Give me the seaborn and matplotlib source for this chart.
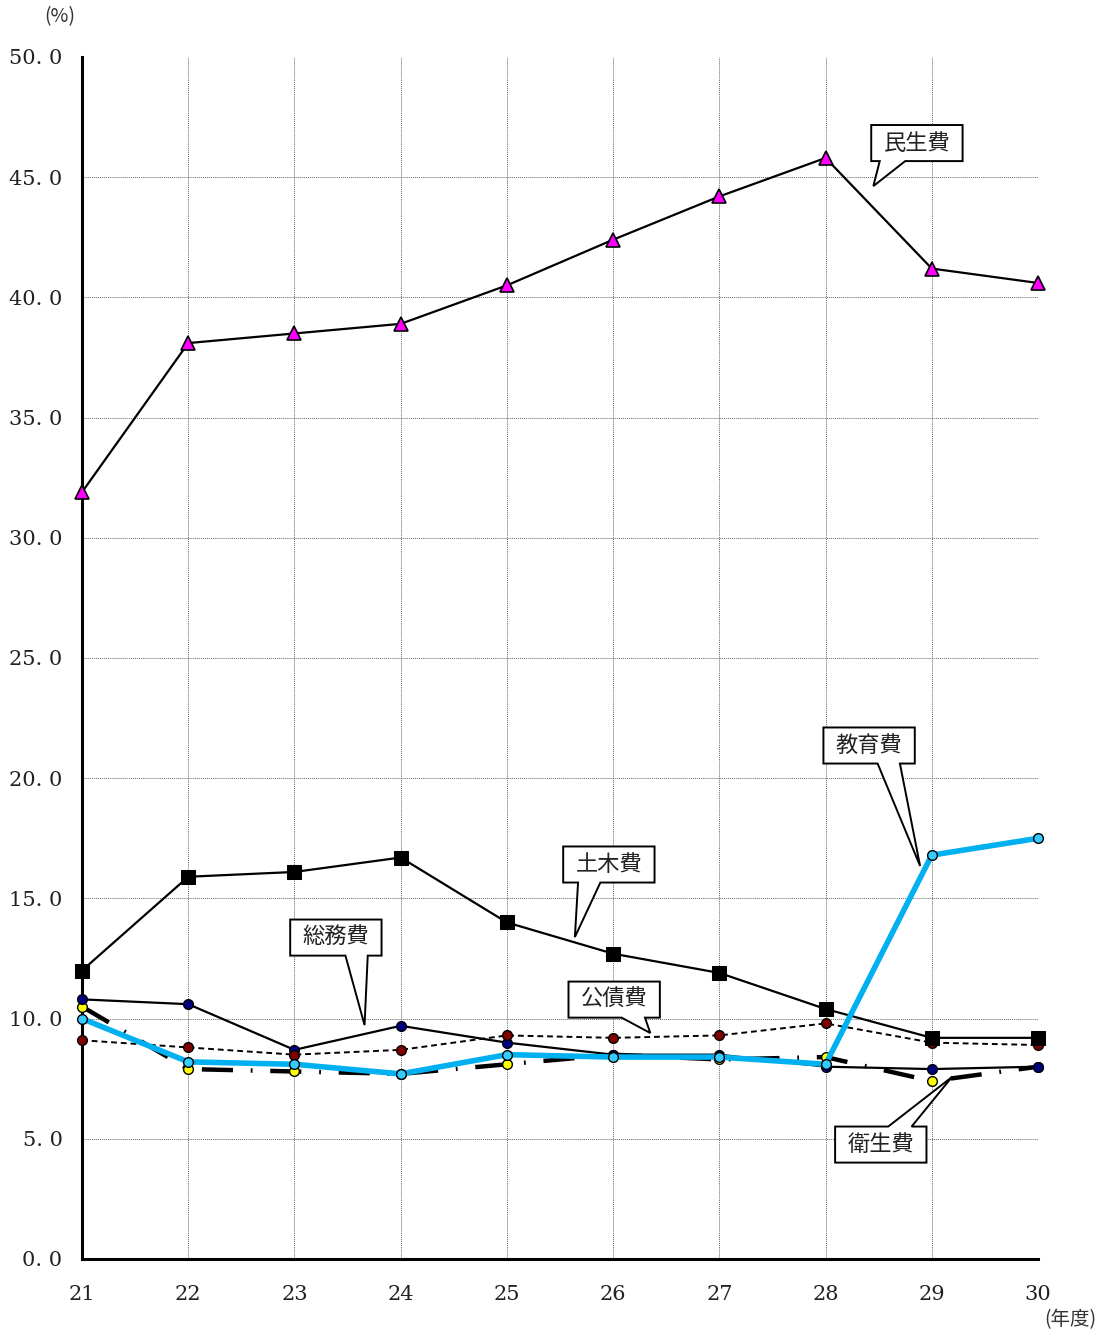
import matplotlib
matplotlib.use("Agg")
import matplotlib.pyplot as plt
from matplotlib.patches import Polygon
import seaborn as sns

# 年度（平成）
years = [21, 22, 23, 24, 25, 26, 27, 28, 29, 30]

# 目的別構成比（%）
minsei = [31.9, 38.1, 38.5, 38.9, 40.5, 42.4, 44.2, 45.8, 41.2, 40.6]   # 民生費
doboku = [12.0, 15.9, 16.1, 16.7, 14.0, 12.7, 11.9, 10.4, 9.2, 9.2]     # 土木費
kyoiku = [10.0, 8.2, 8.1, 7.7, 8.5, 8.4, 8.4, 8.1, 16.8, 17.5]          # 教育費
somu = [10.8, 10.6, 8.7, 9.7, 9.0, 8.5, 8.5, 8.0, 7.9, 8.0]             # 総務費
kosai = [9.1, 8.8, 8.5, 8.7, 9.3, 9.2, 9.3, 9.8, 9.0, 8.9]              # 公債費
eisei = [10.5, 7.9, 7.8, 7.7, 8.1, 8.5, 8.3, 8.4, 7.4, 8.0]             # 衛生費

y_ticks = [0, 5, 10, 15, 20, 25, 30, 35, 40, 45, 50]
y_tick_labels = ["0. 0", "5. 0", "10. 0", "15. 0", "20. 0", "25. 0",
                 "30. 0", "35. 0", "40. 0", "45. 0", "50. 0"]

sns.set_theme(style="white")
plt.rcParams["font.family"] = ["Noto Sans CJK JP", "DejaVu Sans"]

fig = plt.figure(figsize=(11.06, 13.34), dpi=100)
ax = fig.add_axes([82 / 1106, 1 - 1259 / 1334, (1038 - 82) / 1106, (1259 - 57) / 1334])

common = dict(ax=ax, errorbar=None, clip_on=False)

# 衛生費：太い一点鎖線
sns.lineplot(x=years, y=eisei, color="black", lw=3.2,
             linestyle=(0, (7, 4, 0.4, 4)), marker="o", markersize=7,
             markerfacecolor="#FFFF00", markeredgecolor="black",
             markeredgewidth=1.0, zorder=3, **common)
# 総務費：細い実線
sns.lineplot(x=years, y=somu, color="black", lw=1.6,
             marker="o", markersize=7, markerfacecolor="#000080",
             markeredgecolor="black", markeredgewidth=1.0, zorder=4, **common)
# 公債費：破線
sns.lineplot(x=years, y=kosai, color="black", lw=1.4,
             linestyle=(0, (3, 2)), marker="o", markersize=7,
             markerfacecolor="#800000", markeredgecolor="black",
             markeredgewidth=1.0, zorder=4, **common)
# 土木費
sns.lineplot(x=years, y=doboku, color="black", lw=1.6,
             marker="s", markersize=10, markerfacecolor="black",
             markeredgecolor="black", zorder=5, **common)
# 教育費：水色の太線
sns.lineplot(x=years, y=kyoiku, color="#00B0F0", lw=4.0,
             marker="o", markersize=7, markerfacecolor="#33CCFF",
             markeredgecolor="black", markeredgewidth=1.0, zorder=6, **common)
# 民生費
sns.lineplot(x=years, y=minsei, color="black", lw=1.6,
             marker="^", markersize=10, markerfacecolor="#FF00FF",
             markeredgecolor="black", markeredgewidth=1.2, zorder=6, **common)

ax.set_xlim(21, 30)
ax.set_ylim(0, 50)
ax.set_xticks(years)
ax.set_xticklabels([str(y) for y in years], family=["DejaVu Serif"], fontsize=15)
ax.set_yticks(y_ticks)
ax.set_yticklabels(y_tick_labels, family=["DejaVu Serif"], fontsize=15)
ax.set_xlabel("")
ax.set_ylabel("")

ax.grid(True, color="#666666", linestyle=(0, (1, 1)), linewidth=0.7)
for gl in ax.get_ygridlines():
    if abs(gl.get_ydata()[0] - 50) < 1e-6:
        gl.set_visible(False)
for gl in ax.get_xgridlines():
    xv = gl.get_xdata()[0]
    if abs(xv - 21) < 1e-6 or abs(xv - 30) < 1e-6:
        gl.set_visible(False)

for side in ("top", "right"):
    ax.spines[side].set_visible(False)
for side in ("left", "bottom"):
    ax.spines[side].set_linewidth(2.2)
    ax.spines[side].set_color("black")
ax.tick_params(axis="both", direction="in", length=6, width=1.5, colors="black",
               labelcolor="#222222")
ax.tick_params(axis="x", pad=19)
ax.tick_params(axis="y", pad=14)

fig.text(60 / 1106, 1 - 17 / 1334, "(%)", ha="center", va="center",
         fontsize=14, color="#333333")
fig.text(1070 / 1106, 1 - 1320 / 1334, "(年度)", ha="center", va="center",
         fontsize=14, color="#333333")


def callout(label, cx, cy, tip, base, edge):
    w, h = 0.86, 1.50
    x0, x1 = cx - w / 2, cx + w / 2
    y0, y1 = cy - h / 2, cy + h / 2
    b0, b1 = base
    if edge == "bottom":
        pts = [(x0, y1), (x1, y1), (x1, y0), (b1, y0), tip, (b0, y0), (x0, y0)]
    else:
        pts = [(x0, y0), (x1, y0), (x1, y1), (b1, y1), tip, (b0, y1), (x0, y1)]
    poly = Polygon(pts, closed=True, facecolor="white", edgecolor="black",
                   linewidth=1.4, zorder=10, clip_on=False)
    ax.add_patch(poly)
    ax.text(cx, cy, label, ha="center", va="center", fontsize=16,
            color="#222222", zorder=11)


callout("民生費", 28.86, 46.42, (28.45, 44.63), (28.51, 28.75), "bottom")
callout("教育費", 28.41, 21.36, (28.89, 16.35), (28.49, 28.70), "bottom")
callout("土木費", 25.96, 16.41, (25.64, 13.39), (25.67, 25.88), "bottom")
callout("総務費", 23.39, 13.37, (23.66, 9.73), (23.48, 23.69), "bottom")
callout("公債費", 26.01, 10.79, (26.35, 9.40), (26.08, 26.30), "bottom")
callout("衛生費", 28.52, 4.76, (29.19, 7.57), (28.59, 28.81), "top")

fig.savefig("out.png", dpi=100)
